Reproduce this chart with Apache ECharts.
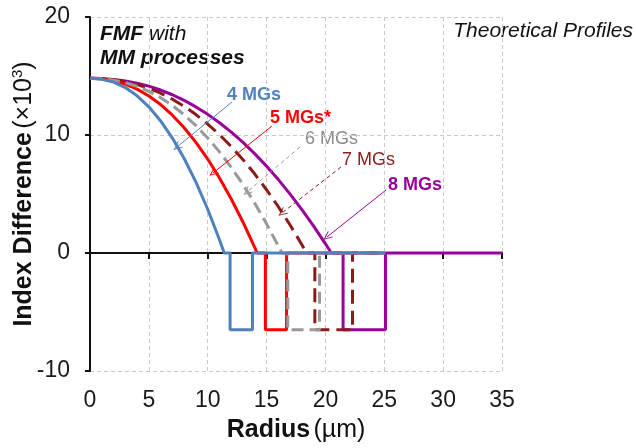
<!DOCTYPE html>
<html><head><meta charset="utf-8">
<script src="https://cdn.jsdelivr.net/npm/echarts@6/dist/echarts.min.js"></script>
<style>html,body{margin:0;padding:0;background:#fff}#c{width:636px;height:448px}</style>
</head><body><div id="c"></div>
<script>
// ---- data (radius µm, index difference ×10^3) ----
const mg4 = [[0,14.8],[1,14.73],[2,14.48],[3,14.02],[4,13.32],[5,12.39],[6,11.19],[7,9.74],[8,8.01],[9,6.01],[10,3.71],[11,1.12],[11.4,0],[11.9,0],[11.9,-6.5],[13.8,-6.5],[13.8,0],[25.1,0]];
const mg5 = [[0,14.8],[1,14.76],[2,14.6],[3,14.32],[4,13.89],[5,13.31],[6,12.58],[7,11.68],[8,10.61],[9,9.37],[10,7.96],[11,6.36],[12,4.58],[13,2.61],[14,0.45],[14.2,0],[14.9,0],[14.9,-6.5],[16.7,-6.5],[16.7,0],[25,0]];
const mg6 = [[0,14.8],[1,14.77],[2,14.65],[3,14.44],[4,14.13],[5,13.7],[6,13.16],[7,12.5],[8,11.71],[9,10.79],[10,9.75],[11,8.57],[12,7.26],[13,5.8],[14,4.21],[15,2.47],[16,0.59],[16.3,0],[16.8,0],[16.8,-6.5],[19.5,-6.5],[19.5,0],[25,0]];
const mg7 = [[0,14.8],[1,14.78],[2,14.69],[3,14.53],[4,14.28],[5,13.96],[6,13.54],[7,13.03],[8,12.43],[9,11.73],[10,10.93],[11,10.03],[12,9.02],[13,7.91],[14,6.69],[15,5.36],[16,3.92],[17,2.37],[18,0.7],[18.4,0],[19.1,0],[19.1,-6.5],[22.3,-6.5],[22.3,0],[25,0]];
const mg8 = [[0,14.8],[1,14.78],[2,14.71],[3,14.58],[4,14.39],[5,14.14],[6,13.81],[7,13.41],[8,12.93],[9,12.38],[10,11.75],[11,11.04],[12,10.24],[13,9.37],[14,8.4],[15,7.36],[16,6.22],[17,4.99],[18,3.68],[19,2.28],[20,0.78],[20.5,0],[21.5,0],[21.5,-6.5],[25.1,-6.5],[25.1,0],[35,0]];
const seriesNames = ['4 MGs','5 MGs*','6 MGs','7 MGs','8 MGs'];
// arrow annotations: [label-end point, tip on curve] in data units
const arrow4 = [[12.06,12.8],[7.39,8.98]];
const arrow5 = [[15.46,10.76],[10.45,6.78]];
const arrow6 = [[17.84,8.98],[13.34,5.17]];
const arrow7 = [[21.32,7.29],[16.31,3.39]];
const arrow8 = [[25.15,5.34],[20.13,1.36]];
const xTicks = [0,35,5];
const yTicks = [-10,20,10];

const FONT = 'Liberation Sans, Arial, sans-serif';
const C4='#4F81BD', C5='#FF0000', C6='#999999', C7='#8B1A1A', C8='#990099';
const OPEN_ARROW = 'path://M5,0 L10,10 L8.8,10 L5,2.4 L1.2,10 L0,10 Z';

function arrowML(pts, color, dashed){
  return {silent:true, symbol:['none', OPEN_ARROW], symbolSize:[8,9], animation:false,
    lineStyle:{color:color, width:1, type: dashed ? [4,3] : 'solid'},
    label:{show:false}, emphasis:{disabled:true},
    data:[[{coord:pts[0]},{coord:pts[1]}]]};
}
function mkSeries(name, data, color, dash, arrow){
  return {name:name, type:'line', data:data, showSymbol:false, symbol:'none',
    xAxisIndex:0, yAxisIndex:0, animation:false,
    lineStyle:{color:color, width:3, type: dash || 'solid'},
    itemStyle:{color:color}, markLine: arrowML(arrow, color, !!dash)};
}

const chart = echarts.init(document.getElementById('c'), null, {renderer:'canvas'});
chart.setOption({
  animation:false,
  grid:{left:90, right:134, top:17, bottom:77, containLabel:false, outerBoundsMode:'none'},
  xAxis:[
    {type:'value', min:xTicks[0], max:xTicks[1], interval:xTicks[2], position:'bottom',
     axisLine:{show:false, onZero:false}, axisTick:{show:false},
     axisLabel:{fontSize:23, color:'#1a1a1a', fontFamily:FONT, margin:18},
     splitLine:{show:true, lineStyle:{color:'#c8c8c8', type:[4,3], width:1}},
     name:'{b|Radius} {n|(µm)}', nameLocation:'middle', nameGap:47,
     nameTextStyle:{fontFamily:FONT, rich:{b:{fontSize:25, fontWeight:'bold', color:'#111', fontFamily:FONT}, n:{fontSize:25, color:'#111', fontFamily:FONT}}}},
    {type:'value', min:xTicks[0], max:xTicks[1], interval:xTicks[2], position:'bottom',
     axisLine:{show:true, onZero:true, lineStyle:{color:'#111', width:2}},
     axisTick:{show:true, inside:false, length:6, lineStyle:{color:'#111', width:2}},
     axisLabel:{show:false}, splitLine:{show:false}}
  ],
  yAxis:[{type:'value', min:yTicks[0], max:yTicks[1], interval:yTicks[2],
    axisLine:{show:true, onZero:false, lineStyle:{color:'#111', width:2}},
    axisTick:{show:true, length:5, lineStyle:{color:'#111', width:2}},
    axisLabel:{fontSize:23, color:'#1a1a1a', fontFamily:FONT, margin:20},
    splitLine:{show:true, lineStyle:{color:'#c8c8c8', type:[4,3], width:1}},
    name:'{b|Index Difference} {n|(×10}{s|3}{n|)}', nameLocation:'middle', nameRotate:90, nameGap:52,
    nameMoveOverlap:false,
    nameTextStyle:{fontFamily:FONT, rich:{
      b:{fontSize:25, fontWeight:'bold', color:'#111', fontFamily:FONT, lineHeight:28},
      n:{fontSize:25, color:'#111', fontFamily:FONT, lineHeight:28},
      s:{fontSize:15, color:'#111', fontFamily:FONT, lineHeight:28, verticalAlign:'top', padding:[0,0,11,0]}}}
  }],
  series:[
    mkSeries(seriesNames[4], mg8, C8, null, arrow8),
    mkSeries(seriesNames[3], mg7, C7, [14,7], arrow7),
    mkSeries(seriesNames[1], mg5, C5, null, arrow5),
    mkSeries(seriesNames[2], mg6, C6, [12,6], arrow6),
    mkSeries(seriesNames[0], mg4, C4, null, arrow4)
  ],
  graphic:[
    {type:'text', left:100, top:24, style:{text:'{b|FMF}{i| with}', fontFamily:FONT,
      rich:{b:{fontSize:21, fontWeight:'bold', fontStyle:'italic', fill:'#111', fontFamily:FONT}, i:{fontSize:21, fontStyle:'italic', fill:'#111', fontFamily:FONT}}}},
    {type:'text', left:100, top:48, style:{text:'MM processes', fontSize:21, fontWeight:'bold', fontStyle:'italic', fill:'#111', fontFamily:FONT}},
    {type:'text', right:3, top:21, style:{text:'Theoretical Profiles', fontSize:21, fontStyle:'italic', fill:'#111', fontFamily:FONT}},
    {type:'text', left:227, top:86, style:{text:seriesNames[0], fontSize:18, fontWeight:'bold', fill:C4, fontFamily:FONT}},
    {type:'text', left:270, top:109, style:{text:seriesNames[1], fontSize:18, fontWeight:'bold', fill:C5, fontFamily:FONT}},
    {type:'text', left:305, top:130, style:{text:seriesNames[2], fontSize:18, fill:'#8a8a8a', fontFamily:FONT}},
    {type:'text', left:342, top:151, style:{text:seriesNames[3], fontSize:18, fill:C7, fontFamily:FONT}},
    {type:'text', left:388, top:176, style:{text:seriesNames[4], fontSize:18, fontWeight:'bold', fill:C8, fontFamily:FONT}}
  ]
});
</script></body></html>
